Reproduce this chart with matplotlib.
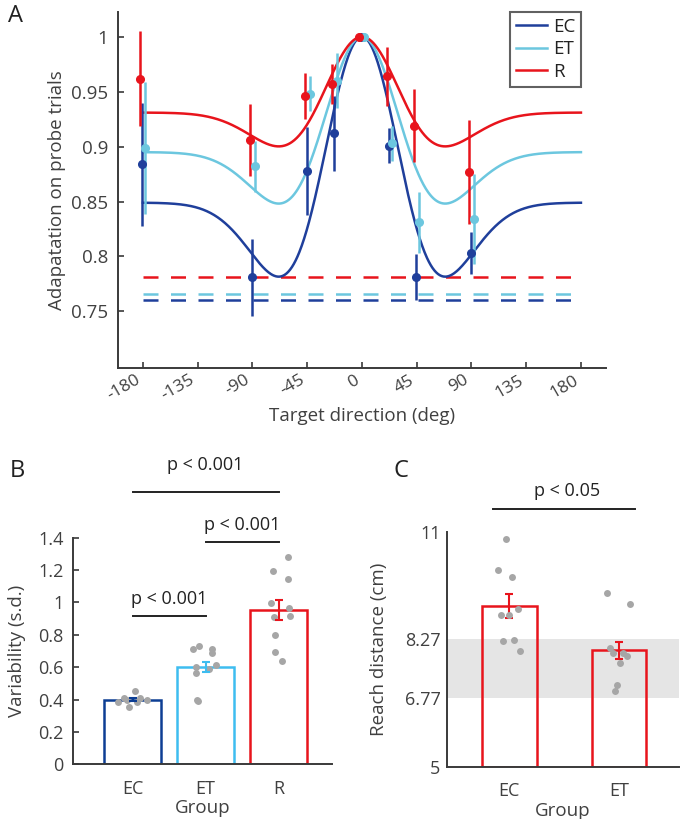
import numpy as np
import matplotlib
matplotlib.use("Agg")
import matplotlib.pyplot as plt

plt.rcParams['font.family'] = ['Open Sans', 'DejaVu Sans']

# ---- panel A data ----
groups = ['EC', 'ET', 'R']
directions = [-180, -90, -45, -22.5, 0, 22.5, 45, 90]
adapt_mean = {
    'EC': [0.884, 0.781, 0.878, 0.912, 1.0, 0.901, 0.781, 0.803],
    'ET': [0.899, 0.882, 0.948, 0.960, 1.0, 0.903, 0.831, 0.834],
    'R':  [0.962, 0.906, 0.946, 0.957, 1.0, 0.964, 0.919, 0.877],
}
adapt_err = {
    'EC': [0.056, 0.035, 0.040, 0.034, 0.0, 0.016, 0.021, 0.019],
    'ET': [0.060, 0.023, 0.016, 0.025, 0.0, 0.016, 0.028, 0.041],
    'R':  [0.043, 0.033, 0.021, 0.018, 0.0, 0.027, 0.033, 0.047],
}
# fitted generalization curve: baseline + (peak - baseline) * mexican hat
fit_baseline = [0.849, 0.895, 0.931]
fit_peak = [1.0, 1.0, 1.0]
fit_width = 39.5
chance_level = [0.760, 0.7655, 0.781]
x_jitter = [-0.5, 2.0, -2.0]

# ---- panel B data ----
var_mean = [0.40, 0.60, 0.955]
var_err = [0.01, 0.032, 0.062]
var_pts = [
    [0.387, 0.407, 0.356, 0.451, 0.383, 0.407, 0.397, 0.397],
    [0.712, 0.730, 0.712, 0.685, 0.613, 0.588, 0.603, 0.562, 0.397, 0.391],
    [1.280, 1.195, 1.144, 0.994, 0.965, 0.916, 0.912, 0.798, 0.695, 0.636],
]
var_jit = [
    [-0.196, -0.119, -0.050, 0.032, 0.059, 0.096, 0.201, -0.08],
    [-0.178, -0.087, 0.091, 0.091, 0.142, 0.050, -0.132, -0.132, -0.123, -0.100],
    [0.128, -0.073, 0.123, -0.105, 0.137, 0.155, -0.059, -0.046, -0.050, 0.041],
]

# ---- panel C data ----
reach_groups = ['EC', 'ET']
reach_mean = [9.11, 7.98]
reach_err = [0.30, 0.22]
reach_pts = [
    [10.82, 10.03, 9.84, 9.04, 8.89, 8.87, 8.22, 8.24, 7.95],
    [9.44, 9.15, 8.04, 7.91, 7.92, 7.83, 7.65, 7.10, 6.94],
]
reach_jit = [
    [-0.029, -0.099, 0.025, 0.077, -0.078, 0.001, -0.053, 0.047, 0.101],
    [-0.108, 0.098, -0.084, -0.059, 0.038, 0.074, 0.007, -0.017, -0.038],
]
target_band = [6.77, 8.27]

col_A = {'EC': '#1f3f9b', 'ET': '#6cc7df', 'R': '#e8141c'}
col_B = ['#0d3e94', '#3ebdf0', '#e8141c']
dot_col = '#a6a6a6'
txt = '#404040'
spine_c = '#3a3a3a'

fig = plt.figure(figsize=(6.8, 8.19), dpi=100)


def style(ax):
    for s in ['top', 'right']:
        ax.spines[s].set_visible(False)
    for s in ['left', 'bottom']:
        ax.spines[s].set_color(spine_c)
        ax.spines[s].set_linewidth(1.4)
    ax.tick_params(direction='in', colors=spine_c, labelcolor=txt,
                   labelsize=13, width=1.2, length=4)


# ---------------- A ----------------
axA = fig.add_axes([0.1735, 0.5507, 0.7175, 0.4346])
style(axA)
xs = np.linspace(-180, 180, 721)
for i, g in enumerate(groups):
    u = (xs / fit_width) ** 2
    curve = fit_baseline[i] + (fit_peak[i] - fit_baseline[i]) * (1 - u) * np.exp(-u / 2)
    axA.plot(xs, curve, color=col_A[g], lw=1.8, label=g, zorder=3)
    axA.plot([-180, 180], [chance_level[i]] * 2, color=col_A[g], lw=1.8,
             dashes=(6, 5), zorder=2)
for i, g in enumerate(groups):
    dx = np.array(directions) + x_jitter[i]
    axA.errorbar(dx, adapt_mean[g], yerr=adapt_err[g], fmt='o', color=col_A[g],
                 ms=5.5, elinewidth=1.8, capsize=0, zorder=4)
axA.set_xlim(-200.5, 200.5)
axA.set_ylim(0.6985, 1.0225)
axA.set_xticks([-180, -135, -90, -45, 0, 45, 90, 135, 180])
axA.set_xticklabels(['-180', '-135', '-90', '-45', '0', '45', '90', '135', '180'],
                    rotation=30, ha='right')
axA.set_yticks([0.75, 0.8, 0.85, 0.9, 0.95, 1])
axA.set_yticklabels(['0.75', '0.8', '0.85', '0.9', '0.95', '1'])
axA.tick_params(axis='x', labelsize=12.5, pad=3)
axA.tick_params(axis='y', labelsize=13.5, pad=7)
axA.set_xlabel('Target direction (deg)', fontsize=13.5, color=txt, labelpad=2)
axA.set_ylabel('Adapatation on probe trials', fontsize=13.5, color=txt, labelpad=4)
leg = axA.legend(loc='upper right', bbox_to_anchor=(581 / 680, 1 - 12 / 819),
                 bbox_transform=fig.transFigure, fontsize=13.5,
                 frameon=True, fancybox=False, handlelength=1.7, handletextpad=0.3,
                 borderpad=0.3, labelspacing=0.25, borderaxespad=0.0)
leg.get_frame().set_edgecolor('#3a3a3a')
leg.get_frame().set_linewidth(1.5)
for t in leg.get_texts():
    t.set_color('#222222')

# ---------------- B ----------------
axB = fig.add_axes([0.107, 0.0668, 0.381, 0.2767])
style(axB)
pos = np.arange(1, 4)
for i in range(3):
    axB.bar(pos[i], var_mean[i], width=0.78, facecolor='white', edgecolor=col_B[i],
            linewidth=1.8, zorder=2)
    axB.errorbar(pos[i], var_mean[i], yerr=var_err[i], color=col_B[i], elinewidth=1.5,
                 capsize=3, capthick=1.5, zorder=4)
    axB.plot(pos[i] + np.array(var_jit[i]), var_pts[i], 'o', color=dot_col, ms=5,
             mec='none', zorder=3)
axB.set_xlim(0.18, 3.73)
axB.set_ylim(0, 1.4)
axB.set_yticks(np.arange(0, 1.41, 0.2))
axB.set_yticklabels(['0', '0.2', '0.4', '0.6', '0.8', '1', '1.2', '1.4'])
axB.set_xticks(pos)
axB.set_xticklabels(groups)
axB.tick_params(axis='x', length=0, pad=11, labelsize=13)
axB.tick_params(axis='y', pad=6.5)
axB.set_xlabel('Group', fontsize=13.5, color=txt, labelpad=1)
axB.set_ylabel('Variability (s.d.)', fontsize=13.5, color=txt, labelpad=9)
sig_B = [(1, 2, 0.915, 0.109), (2, 3, 1.374, 0.103), (1, 3, 1.683, 0.165)]
for a, b, h, off in sig_B:
    axB.plot([a, b], [h, h], color='#222222', lw=1.4, clip_on=False)
    axB.text((a + b) / 2, h + off, 'p < 0.001', ha='center', va='center',
             fontsize=13, color='#222222', clip_on=False)

# ---------------- C ----------------
axC = fig.add_axes([0.657, 0.0635, 0.342, 0.2869])
style(axC)
axC.axhspan(target_band[0], target_band[1], color='#e5e5e5', lw=0, zorder=0)
posC = np.arange(1, 3)
for i in range(2):
    axC.bar(posC[i], reach_mean[i] - 5, bottom=5, width=0.5, facecolor='none',
            edgecolor=col_B[2], linewidth=1.8, zorder=2)
    axC.errorbar(posC[i], reach_mean[i], yerr=reach_err[i], color=col_B[2],
                 elinewidth=1.5, capsize=3, capthick=1.5, zorder=3)
    axC.plot(posC[i] + np.array(reach_jit[i]), reach_pts[i], 'o', color=dot_col,
             ms=5, mec='none', zorder=4)
axC.set_xlim(0.43, 2.55)
axC.set_ylim(5, 11)
axC.set_yticks([5, 6.77, 8.27, 11])
axC.set_yticklabels(['5', '6.77', '8.27', '11'])
axC.set_xticks(posC)
axC.set_xticklabels(reach_groups)
axC.tick_params(axis='x', length=0, pad=11, labelsize=13)
axC.tick_params(axis='y', length=0, pad=4.5, labelsize=13)
axC.set_xlabel('Group', fontsize=13.5, color=txt, labelpad=1)
axC.set_ylabel('Reach distance (cm)', fontsize=13.5, color=txt, labelpad=12)
axC.plot([0.855, 2.15], [11.58, 11.58], color='#222222', lw=1.4, clip_on=False)
axC.text(1.53, 11.58 + 0.46, 'p < 0.05', ha='center', va='center', fontsize=13,
         color='#222222', clip_on=False)

fig.text(0.012, 1 - 16 / 819, 'A', fontsize=17, color='#222222', va='center')
fig.text(0.014, 1 - 471 / 819, 'B', fontsize=17, color='#222222', va='center')
fig.text(0.578, 1 - 471 / 819, 'C', fontsize=17, color='#222222', va='center')

fig.savefig('out.png', dpi=100)
